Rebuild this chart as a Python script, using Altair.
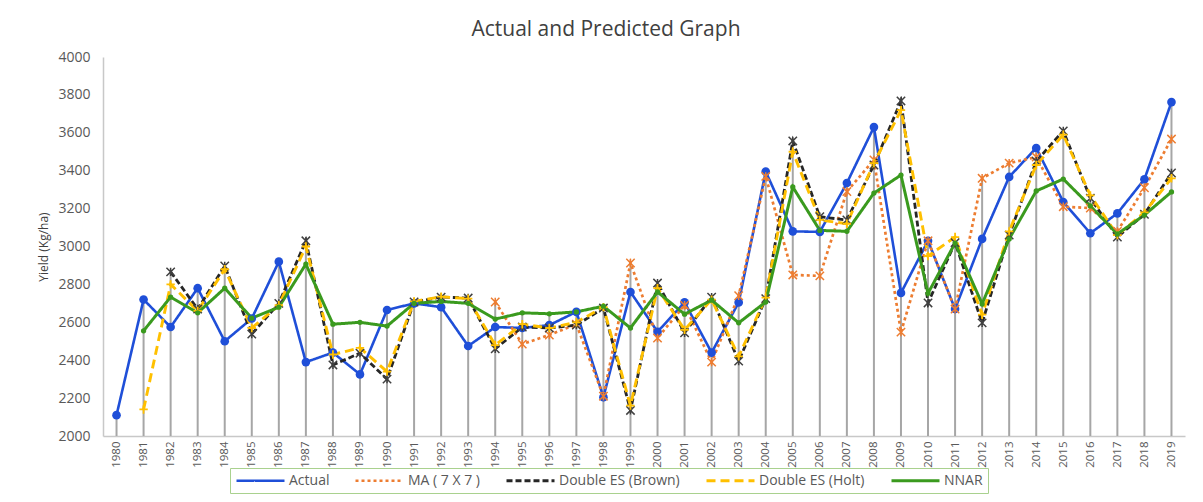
import altair as alt
import pandas as pd

years = ["1980", "1981", "1982", "1983", "1984", "1985", "1986", "1987", "1988", "1989",
         "1990", "1991", "1992", "1993", "1994", "1995", "1996", "1997", "1998", "1999",
         "2000", "2001", "2002", "2003", "2004", "2005", "2006", "2007", "2008", "2009",
         "2010", "2011", "2012", "2013", "2014", "2015", "2016", "2017", "2018", "2019"]

actual = [2110, 2720, 2575, 2780, 2500, 2620, 2920, 2390, 2440, 2325,
          2665, 2700, 2680, 2475, 2575, 2570, 2585, 2655, 2205, 2760,
          2550, 2705, 2440, 2705, 3395, 3080, 3077, 3335, 3630, 2755,
          3030, 2670, 3040, 3367, 3520, 3235, 3070, 3175, 3355, 3762]

ma_7x7 = [None] * 14 + [2707, 2485, 2533, 2590, 2210, 2913,
                        2517, 2690, 2390, 2740, 3370, 2850, 2845, 3290, 3457, 2548,
                        3030, 2670, 3360, 3440, 3472, 3210, 3203, 3080, 3310, 3567]

brown = [None, None, 2866, 2670, 2897, 2538, 2700, 3030, 2375, 2437,
         2300, 2707, 2733, 2728, 2460, 2575, 2570, 2585, 2675, 2135,
         2807, 2545, 2733, 2395, 2725, 3557, 3157, 3140, 3430, 3768,
         2702, 3020, 2597, 3060, 3450, 3610, 3255, 3050, 3170, 3388]

holt = [None, 2140, 2800, 2660, 2880, 2570, 2690, 3000, 2430, 2465,
        2340, 2710, 2735, 2725, 2480, 2590, 2570, 2600, 2680, 2160,
        2780, 2560, 2720, 2420, 2730, 3500, 3140, 3120, 3440, 3720,
        2950, 3050, 2640, 3080, 3430, 3590, 3270, 3060, 3180, 3360]

nnar = [None, 2555, 2733, 2650, 2780, 2622, 2680, 2907, 2590, 2600,
        2580, 2700, 2710, 2700, 2617, 2650, 2645, 2655, 2685, 2570,
        2760, 2643, 2717, 2597, 2707, 3314, 3085, 3080, 3282, 3377,
        2753, 3018, 2697, 3040, 3293, 3356, 3214, 3066, 3166, 3288]

series_names = ["Actual", "MA ( 7 X 7 )", "Double ES (Brown)", "Double ES (Holt)", "NNAR"]
series_colors = ["#1f4fd8", "#ed7d31", "#262626", "#ffc000", "#3a9a1e"]
series_dash = [[1, 0], [3, 3], [6, 3], [9, 5], [1, 0]]
series_width = [2.6, 3, 2.5, 3, 2.2]
y_ticks = [2000, 2200, 2400, 2600, 2800, 3000, 3200, 3400, 3600, 3800, 4000]

rows = []
for name, vals in zip(series_names, [actual, ma_7x7, brown, holt, nnar]):
    for yr, v in zip(years, vals):
        if v is not None:
            rows.append({"year": yr, "series": name, "value": v, "order": series_names.index(name)})
df = pd.DataFrame(rows)

FONT = "Open Sans"
x_enc = alt.X("year:O", scale=alt.Scale(type="point", padding=0.5, domain=years),
              axis=alt.Axis(title=None, labelAngle=-90, labelFontSize=11.5, labelFont=FONT,
                            labelColor="#595959", ticks=False, labelPadding=5,
                            domainColor="#c8c8c8", domainWidth=1.5))
y_scale = alt.Scale(domain=[2000, 4000], nice=False, zero=False)
y_axis = alt.Axis(title="Yield (Kg/ha)", values=y_ticks, format="d", grid=False, ticks=False,
                  labelFontSize=14, labelFont=FONT, labelColor="#595959", labelPadding=13,
                  titleFont=FONT, titleFontSize=12, titleFontWeight="normal",
                  titleColor="#404040", titlePadding=7,
                  domainColor="#c8c8c8", domainWidth=1.5)

base = alt.Chart(df)

drops = base.mark_rule(color="#a6a6a6", strokeWidth=2).encode(
    x=x_enc,
    y=alt.Y("max(value):Q", scale=y_scale, axis=y_axis),
    y2=alt.datum(2000),
)

legend_line = "M-1,0L7,0"

lines = base.mark_line().encode(
    x=x_enc,
    y=alt.Y("value:Q", scale=y_scale, axis=y_axis),
    color=alt.Color("series:N", scale=alt.Scale(domain=series_names, range=series_colors),
                    sort=series_names,
                    legend=alt.Legend(title=None, orient="none", legendX=127, legendY=411,
                                      direction="horizontal", symbolType=legend_line,
                                      symbolSize=144, symbolStrokeWidth=2.5,
                                      labelFont=FONT, labelFontSize=14, labelColor="#595959",
                                      columnPadding=20, labelOffset=39,
                                      strokeColor="#a9d18e", padding=5)),
    strokeDash=alt.StrokeDash("series:N", scale=alt.Scale(domain=series_names, range=series_dash),
                              sort=series_names, legend=alt.Legend(title=None)),
    strokeWidth=alt.StrokeWidth("series:N", scale=alt.Scale(domain=series_names, range=series_width),
                                legend=None),
    order="order:Q",
    detail="series:N",
)

star_path = "M-1,-1L1,1M-1,1L1,-1M0,-1L0,1"
plus_path = "M-1,0L1,0M0,-1L0,1"

def pts(name, color, shape, size, filled, sw=1.5):
    return base.transform_filter(alt.datum.series == name).mark_point(
        shape=shape, size=size, filled=filled, color=color, opacity=1, strokeWidth=sw
    ).encode(x=x_enc, y=alt.Y("value:Q", scale=y_scale, axis=y_axis))

p_actual = pts("Actual", series_colors[0], "circle", 75, True)
p_ma = pts("MA ( 7 X 7 )", series_colors[1], star_path, 70, False, 1.5)
p_brown = pts("Double ES (Brown)", "#404040", star_path, 70, False, 1.5)
p_holt = pts("Double ES (Holt)", series_colors[3], plus_path, 70, False, 1.8)
p_nnar = pts("NNAR", series_colors[4], "circle", 28, True)

chart = alt.layer(drops, lines, p_actual, p_ma, p_brown, p_holt, p_nnar).properties(
    width=1082, height=379,
    title=alt.TitleParams("Actual and Predicted Graph", font=FONT, fontSize=21,
                          fontWeight="normal", color="#404040", dx=-38, offset=10),
    autosize=alt.AutoSizeParams(type="none"),
    padding={"left": 95, "top": 49, "right": 8, "bottom": 58},
    background="white",
).configure_view(stroke="transparent")

chart.save("out.html", embed_options={"renderer": "svg", "actions": False})
